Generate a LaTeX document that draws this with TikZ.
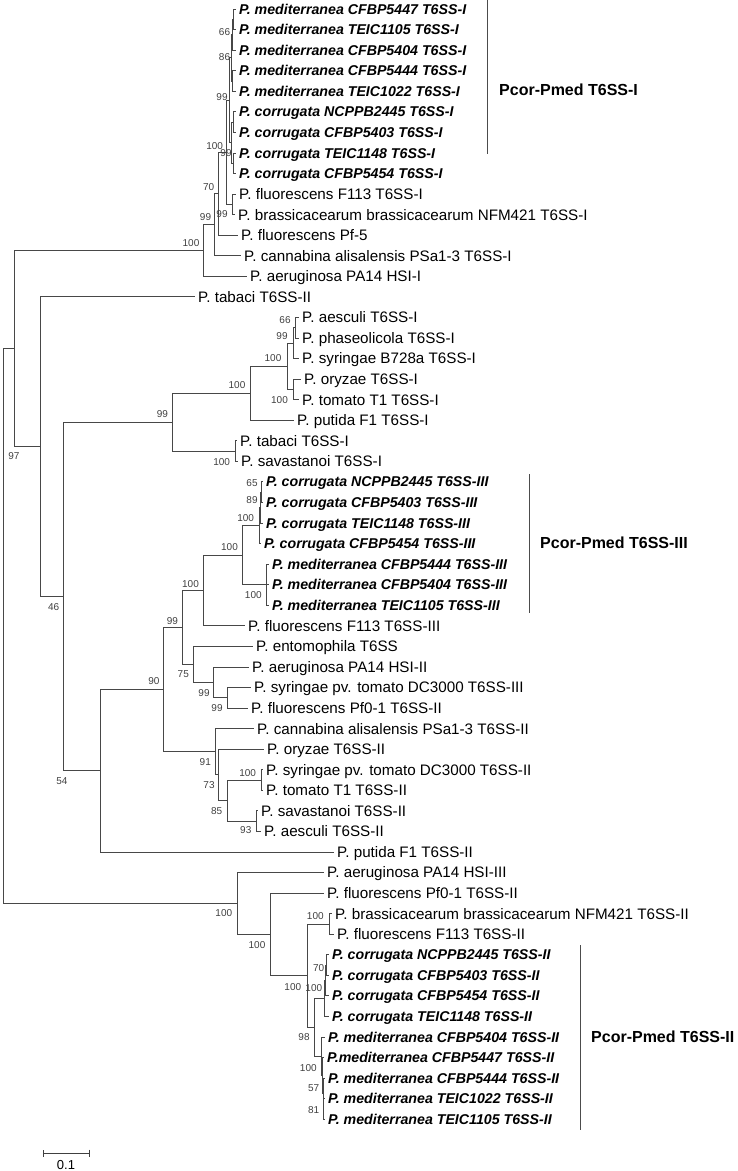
\documentclass[tikz,border=0pt]{standalone}
\usepackage{fontspec}
\setmainfont{Liberation Sans}
\usepackage{tikz}
\usetikzlibrary{arrows.meta}

\tikzset{
  branch/.style={draw=black!72,line width=0.8pt},
  tax/.style={anchor=west,inner sep=0pt,inner xsep=3pt,text height=10.8pt,text depth=0pt,
    font=\fontsize{15.2}{16}\selectfont},
  taxb/.style={tax,text height=10.2pt,font=\fontsize{14.2}{16}\selectfont\bfseries\itshape},
  bs/.style={inner sep=0pt,text=black!75,font=\fontsize{10}{11}\selectfont},
  clade/.style={anchor=west,inner sep=0pt,font=\fontsize{16}{18}\selectfont\bfseries},
  cbar/.style={draw=black!70,line width=0.9pt}
}

\begin{document}
\begin{tikzpicture}[x=1pt,y=-1pt]
\useasboundingbox (0,0) rectangle (737,1171);

% taxa
\node[taxb] (l1) at (236,9.00) {P. mediterranea CFBP5447 T6SS-I};
\node[taxb] (l2) at (236,29.56) {P. mediterranea TEIC1105 T6SS-I};
\node[taxb] (l3) at (236,50.12) {P. mediterranea CFBP5404 T6SS-I};
\node[taxb] (l4) at (236,70.68) {P. mediterranea CFBP5444 T6SS-I};
\node[taxb] (l5) at (236,91.24) {P. mediterranea TEIC1022 T6SS-I};
\node[taxb] (l6) at (236,111.80) {P. corrugata NCPPB2445 T6SS-I};
\node[taxb] (l7) at (236,132.36) {P. corrugata CFBP5403 T6SS-I};
\node[taxb] (l8) at (236,152.92) {P. corrugata TEIC1148 T6SS-I};
\node[taxb] (l9) at (236,173.48) {P. corrugata CFBP5454 T6SS-I};
\node[tax] (l10) at (236,194.04) {P. fluorescens F113 T6SS-I};
\node[tax] (l11) at (235,214.60) {P. brassicacearum brassicacearum NFM421 T6SS-I};
\node[tax] (l12) at (238,235.16) {P. fluorescens Pf-5};
\node[tax] (l13) at (241,255.72) {P. cannabina alisalensis PSa1-3 T6SS-I};
\node[tax] (l14) at (247,276.28) {P. aeruginosa PA14 HSI-I};
\node[tax] (l15) at (195,296.84) {P. tabaci T6SS-II};
\node[tax] (l16) at (299,317.40) {P. aesculi T6SS-I};
\node[tax] (l17) at (299,337.96) {P. phaseolicola T6SS-I};
\node[tax] (l18) at (299,358.52) {P. syringae B728a T6SS-I};
\node[tax] (l19) at (301,379.08) {P. oryzae T6SS-I};
\node[tax] (l20) at (299,399.64) {P. tomato T1 T6SS-I};
\node[tax] (l21) at (294,420.20) {P. putida F1 T6SS-I};
\node[tax] (l22) at (237,440.76) {P. tabaci T6SS-I};
\node[tax] (l23) at (238,461.32) {P. savastanoi T6SS-I};
\node[taxb] (l24) at (263,481.88) {P. corrugata NCPPB2445 T6SS-III};
\node[taxb] (l25) at (263,502.44) {P. corrugata CFBP5403 T6SS-III};
\node[taxb] (l26) at (263,523.00) {P. corrugata TEIC1148 T6SS-III};
\node[taxb] (l27) at (261,543.56) {P. corrugata CFBP5454 T6SS-III};
\node[taxb] (l28) at (269,564.12) {P. mediterranea CFBP5444 T6SS-III};
\node[taxb] (l29) at (269,584.68) {P. mediterranea CFBP5404 T6SS-III};
\node[taxb] (l30) at (269,605.24) {P. mediterranea TEIC1105 T6SS-III};
\node[tax] (l31) at (245,625.80) {P. fluorescens F113 T6SS-III};
\node[tax] (l32) at (253,646.36) {P. entomophila T6SS};
\node[tax] (l33) at (249,666.92) {P. aeruginosa PA14 HSI-II};
\node[tax] (l34) at (251,687.48) {P. syringae pv. tomato DC3000 T6SS-III};
\node[tax] (l35) at (248,708.04) {P. fluorescens Pf0-1 T6SS-II};
\node[tax] (l36) at (254,728.60) {P. cannabina alisalensis PSa1-3 T6SS-II};
\node[tax] (l37) at (264,749.16) {P. oryzae T6SS-II};
\node[tax] (l38) at (263,769.72) {P. syringae pv. tomato DC3000 T6SS-II};
\node[tax] (l39) at (263,790.28) {P. tomato T1 T6SS-II};
\node[tax] (l40) at (258,810.84) {P. savastanoi T6SS-II};
\node[tax] (l41) at (261,831.40) {P. aesculi T6SS-II};
\node[tax] (l42) at (334,851.96) {P. putida F1 T6SS-II};
\node[tax] (l43) at (324,872.52) {P. aeruginosa PA14 HSI-III};
\node[tax] (l44) at (324,893.08) {P. fluorescens Pf0-1 T6SS-II};
\node[tax] (l45) at (332,913.64) {P. brassicacearum brassicacearum NFM421 T6SS-II};
\node[tax] (l46) at (334,934.20) {P. fluorescens F113 T6SS-II};
\node[taxb] (l47) at (329,954.76) {P. corrugata NCPPB2445 T6SS-II};
\node[taxb] (l48) at (329,975.32) {P. corrugata CFBP5403 T6SS-II};
\node[taxb] (l49) at (329,995.88) {P. corrugata CFBP5454 T6SS-II};
\node[taxb] (l50) at (329,1016.44) {P. corrugata TEIC1148 T6SS-II};
\node[taxb] (l51) at (325,1037.00) {P. mediterranea CFBP5404 T6SS-II};
\node[taxb] (l52) at (324,1057.56) {P.mediterranea CFBP5447 T6SS-II};
\node[taxb] (l53) at (325,1078.12) {P. mediterranea CFBP5444 T6SS-II};
\node[taxb] (l54) at (325,1098.68) {P. mediterranea TEIC1022 T6SS-II};
\node[taxb] (l55) at (325,1119.24) {P. mediterranea TEIC1105 T6SS-II};

% inner nodes
\coordinate (m1) at (233,19.28);
\coordinate (m2) at (232,34.70);
\coordinate (m3) at (232.5,80.96);
\coordinate (m4) at (231,57.83);
\coordinate (c1) at (233,122.08);
\coordinate (c2) at (233,163.20);
\coordinate (c3) at (231,142.64);
\coordinate (r) at (229,100.24);
\coordinate (s) at (232,204.32);
\coordinate (q) at (226,152.28);
\coordinate (p) at (218,193.72);
\coordinate (t) at (214,224.72);
\coordinate (n1) at (203,250.50);
\coordinate (e2a) at (295,327.68);
\coordinate (e2) at (293,343.10);
\coordinate (e3) at (293,389.36);
\coordinate (e1) at (287,366.23);
\coordinate (e) at (250,393.22);
\coordinate (f) at (235,451.04);
\coordinate (d) at (172,422.13);
\coordinate (k65) at (261,492.16);
\coordinate (k89) at (260,507.58);
\coordinate (k100) at (259,525.57);
\coordinate (md) at (266,584.68);
\coordinate (pp3) at (242,555.13);
\coordinate (h1a) at (203,590.46);
\coordinate (h1d) at (227,697.76);
\coordinate (h1c) at (213,682.34);
\coordinate (h1b) at (193,664.35);
\coordinate (h1) at (182,627.40);
\coordinate (h5) at (261,780.00);
\coordinate (h6) at (256,821.12);
\coordinate (h4) at (227,800.56);
\coordinate (h3) at (218,774.86);
\coordinate (h2) at (215,751.73);
\coordinate (h) at (163,689.57);
\coordinate (g) at (100,770.76);
\coordinate (c) at (63,596.45);
\coordinate (b) at (40,446.64);
\coordinate (a) at (14,348.57);
\coordinate (z3) at (329,923.92);
\coordinate (k70) at (326,965.04);
\coordinate (k2) at (325,980.46);
\coordinate (k) at (324,998.45);
\coordinate (n81) at (323.5,1108.96);
\coordinate (n57) at (323,1093.54);
\coordinate (n100) at (322.5,1075.55);
\coordinate (mm) at (321,1056.28);
\coordinate (z4) at (314,1027.37);
\coordinate (z2) at (307,975.65);
\coordinate (z1) at (270,934.37);
\coordinate (z) at (237,903.45);
\coordinate (root) at (3,626);

% branches
\draw[branch] (m1) |- (l1.west) (m1) |- (l2.west);
\draw[branch] (m2) |- (m1) (m2) |- (l3.west);
\draw[branch] (m3) |- (l4.west) (m3) |- (l5.west);
\draw[branch] (m4) |- (m2) (m4) |- (m3);
\draw[branch] (c1) |- (l6.west) (c1) |- (l7.west);
\draw[branch] (c2) |- (l8.west) (c2) |- (l9.west);
\draw[branch] (c3) |- (c1) (c3) |- (c2);
\draw[branch] (r) |- (m4) (r) |- (c3);
\draw[branch] (s) |- (l10.west) (s) |- (l11.west);
\draw[branch] (q) |- (r) (q) |- (s);
\draw[branch] (p) |- (q) (p) |- (l12.west);
\draw[branch] (t) |- (p) (t) |- (l13.west);
\draw[branch] (n1) |- (t) (n1) |- (l14.west);
\draw[branch] (e2a) |- (l16.west) (e2a) |- (l17.west);
\draw[branch] (e2) |- (e2a) (e2) |- (l18.west);
\draw[branch] (e3) |- (l19.west) (e3) |- (l20.west);
\draw[branch] (e1) |- (e2) (e1) |- (e3);
\draw[branch] (e) |- (e1) (e) |- (l21.west);
\draw[branch] (f) |- (l22.west) (f) |- (l23.west);
\draw[branch] (d) |- (e) (d) |- (f);
\draw[branch] (k65) |- (l24.west) (k65) |- (l25.west);
\draw[branch] (k89) |- (k65) (k89) |- (l26.west);
\draw[branch] (k100) |- (k89) (k100) |- (l27.west);
\draw[branch] (md) |- (l28.west) (md) -- (l29.west) (md) |- (l30.west);
\draw[branch] (pp3) |- (k100) (pp3) |- (md);
\draw[branch] (h1a) |- (pp3) (h1a) |- (l31.west);
\draw[branch] (h1d) |- (l34.west) (h1d) |- (l35.west);
\draw[branch] (h1c) |- (l33.west) (h1c) |- (h1d);
\draw[branch] (h1b) |- (l32.west) (h1b) |- (h1c);
\draw[branch] (h1) |- (h1a) (h1) |- (h1b);
\draw[branch] (h5) |- (l38.west) (h5) |- (l39.west);
\draw[branch] (h6) |- (l40.west) (h6) |- (l41.west);
\draw[branch] (h4) |- (h5) (h4) |- (h6);
\draw[branch] (h3) |- (l37.west) (h3) |- (h4);
\draw[branch] (h2) |- (l36.west) (h2) |- (h3);
\draw[branch] (h) |- (h1) (h) |- (h2);
\draw[branch] (g) |- (h) (g) |- (l42.west);
\draw[branch] (c) |- (d) (c) |- (g);
\draw[branch] (b) |- (l15.west) (b) |- (c);
\draw[branch] (a) |- (n1) (a) |- (b);
\draw[branch] (z3) |- (l45.west) (z3) |- (l46.west);
\draw[branch] (k70) |- (l47.west) (k70) |- (l48.west);
\draw[branch] (k2) |- (k70) (k2) |- (l49.west);
\draw[branch] (k) |- (k2) (k) |- (l50.west);
\draw[branch] (n81) |- (l54.west) (n81) |- (l55.west);
\draw[branch] (n57) |- (l53.west) (n57) |- (n81);
\draw[branch] (n100) |- (l52.west) (n100) |- (n57);
\draw[branch] (mm) |- (l51.west) (mm) |- (n100);
\draw[branch] (z4) |- (k) (z4) |- (mm);
\draw[branch] (z2) |- (z3) (z2) |- (z4);
\draw[branch] (z1) |- (l44.west) (z1) |- (z2);
\draw[branch] (z) |- (l43.west) (z) |- (z1);
\draw[branch] (root) |- (a) (root) |- (z);

% bootstrap values
\node[bs] (v1) at (224.5,32) {66};
\node[bs] (v2) at (224.5,57) {86};
\node[bs] (v3) at (222,97) {99};
\node[bs] (v4) at (214.7,145.7) {100};
\node[bs] (v5) at (226,153) {99};
\node[bs] (v6) at (208.7,187.3) {70};
\node[bs] (v7) at (205.5,217.3) {99};
\node[bs] (v8) at (222,214) {99};
\node[bs] (v9) at (191,243.3) {100};
\node[bs] (v10) at (285,320) {66};
\node[bs] (v11) at (282,336) {99};
\node[bs] (v12) at (273,358.3) {100};
\node[bs] (v13) at (237,385) {100};
\node[bs] (v14) at (279.5,400) {100};
\node[bs] (v15) at (162.5,413.7) {99};
\node[bs] (v16) at (14,456) {97};
\node[bs] (v17) at (221.7,461.7) {100};
\node[bs] (v18) at (252,483.3) {65};
\node[bs] (v19) at (252,500) {89};
\node[bs] (v20) at (245.7,518.3) {100};
\node[bs] (v21) at (229.5,547.3) {100};
\node[bs] (v22) at (190.5,584) {100};
\node[bs] (v23) at (253.3,595) {100};
\node[bs] (v24) at (53.7,606.7) {46};
\node[bs] (v25) at (172.5,620.7) {99};
\node[bs] (v26) at (183.3,674.5) {75};
\node[bs] (v27) at (154,680.6) {90};
\node[bs] (v28) at (204,693.3) {99};
\node[bs] (v29) at (217,708.3) {99};
\node[bs] (v30) at (205.3,762.3) {91};
\node[bs] (v31) at (247.7,772.7) {100};
\node[bs] (v32) at (209,785) {73};
\node[bs] (v33) at (62,781) {54};
\node[bs] (v34) at (216.7,810.7) {85};
\node[bs] (v35) at (245.8,830) {93};
\node[bs] (v36) at (223.8,913.3) {100};
\node[bs] (v37) at (315.3,916) {100};
\node[bs] (v38) at (257,945) {100};
\node[bs] (v39) at (318.7,968.3) {70};
\node[bs] (v40) at (292.8,986.7) {100};
\node[bs] (v41) at (313.8,988.3) {100};
\node[bs] (v42) at (304,1037.3) {98};
\node[bs] (v43) at (308.3,1068.3) {100};
\node[bs] (v44) at (313.7,1088.3) {57};
\node[bs] (v45) at (313.7,1110) {81};

% clade bars
\coordinate (g1a) at (487,0);
\coordinate (g1b) at (487,154);
\coordinate (g3a) at (529,474);
\coordinate (g3b) at (529,613);
\coordinate (g2a) at (580,945);
\coordinate (g2b) at (580,1130);
\draw[cbar] (g1a) -- (g1b);
\draw[cbar] (g3a) -- (g3b);
\draw[cbar] (g2a) -- (g2b);
\node[clade] (t1) at (499,90) {Pcor-Pmed T6SS-I};
\node[clade] (t3) at (540,543) {Pcor-Pmed T6SS-III};
\node[clade] (t2) at (591,1037) {Pcor-Pmed T6SS-II};

% scale
\coordinate (sc1) at (43,1153);
\coordinate (sc2) at (90,1153);
\draw[black!75,line width=0.8pt,{Bar[width=7pt]}-{Bar[width=7pt]}] (sc1) -- (sc2);
\node[inner sep=0pt,font=\fontsize{13}{14}\selectfont] (sl) at (66,1165) {0.1};
\end{tikzpicture}
\end{document}
